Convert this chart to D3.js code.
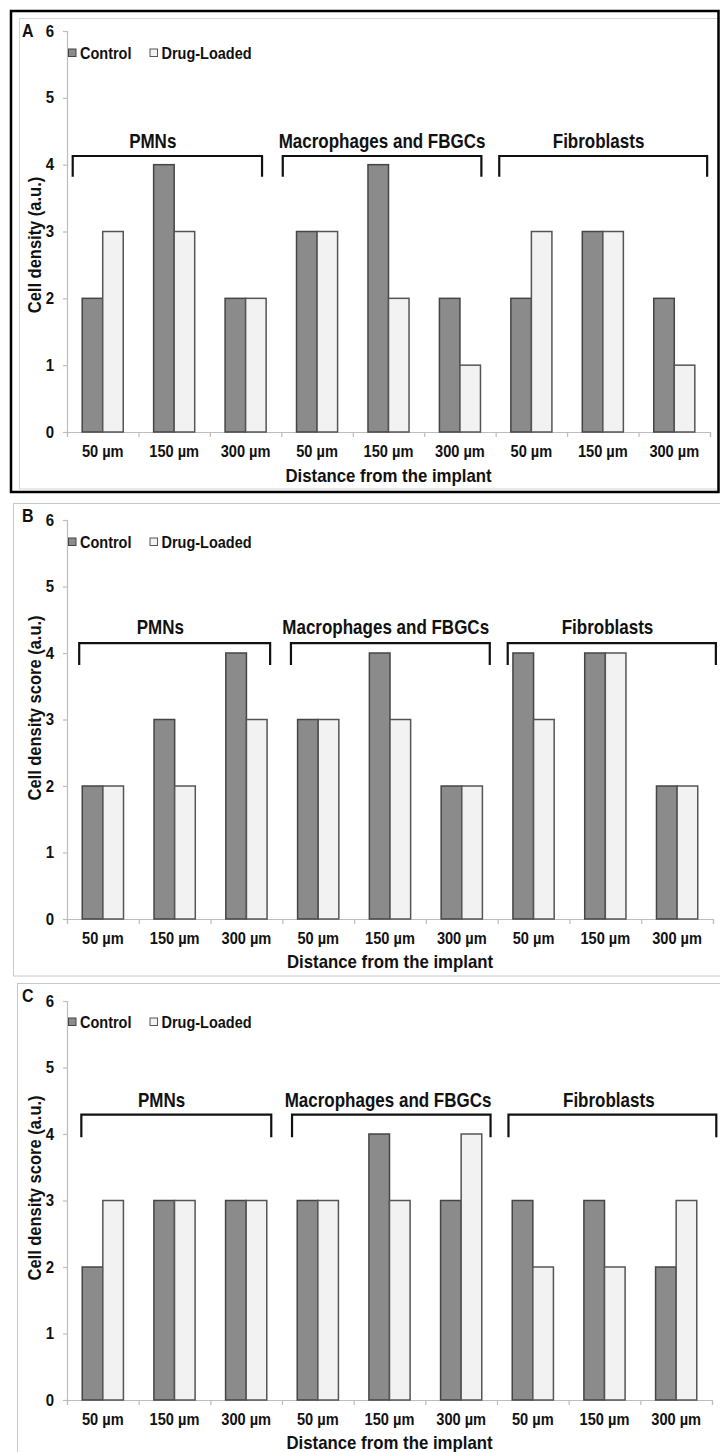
<!DOCTYPE html>
<html>
<head>
<meta charset="utf-8">
<script src="https://cdn.jsdelivr.net/npm/d3@7"></script>
<style>
  html, body { margin: 0; padding: 0; background: #fff; }
  svg { display: block; }
  text { font-family: "Liberation Sans", Arial, sans-serif; font-weight: bold; fill: #111; }
</style>
</head>
<body>
<svg id="chart" width="720" height="1452"></svg>
<script>
// ---------- data ----------
const categories = ["50 µm", "150 µm", "300 µm", "50 µm", "150 µm", "300 µm", "50 µm", "150 µm", "300 µm"];
const groups = ["PMNs", "Macrophages and FBGCs", "Fibroblasts"];
const series = ["Control", "Drug-Loaded"];
const yTicks = [0, 1, 2, 3, 4, 5, 6];
const xTitle = "Distance from the implant";

const panelLetters = ["A", "B", "C"];
const yTitles = ["Cell density (a.u.)", "Cell density score (a.u.)", "Cell density score (a.u.)"];

const controlA = [2, 4, 2, 3, 4, 2, 2, 3, 2];
const drugA    = [3, 3, 2, 3, 2, 1, 3, 3, 1];
const controlB = [2, 3, 4, 3, 4, 2, 4, 4, 2];
const drugB    = [2, 2, 3, 3, 3, 2, 3, 4, 2];
const controlC = [2, 3, 3, 3, 4, 3, 3, 3, 2];
const drugC    = [3, 3, 3, 3, 3, 4, 2, 2, 3];

// ---------- layout (positions / styles) ----------
const layouts = [
  { y0: 432, y6: 31, x0: 67, x1: 710, letterY: 37, legendY: 53, tickY: 457, titleY: 482, yTitleC: 245,
    spans: [[0.08, 2.73], [3.02, 5.80], [6.05, 8.96]], brTop: 4.13, brBot: 3.82,
    labelX: [1.2, 4.41, 7.44], labelV: 4.34, values: [controlA, drugA] },
  { y0: 919, y6: 520, x0: 67, x1: 713, letterY: 522, legendY: 542, tickY: 944, titleY: 968, yTitleC: 708,
    spans: [[0.17, 2.83], [3.12, 5.89], [6.14, 9.04]], brTop: 4.15, brBot: 3.82,
    labelX: [1.3, 4.44, 7.53], labelV: 4.38, values: [controlB, drugB] },
  { y0: 1400, y6: 1001, x0: 67, x1: 712, letterY: 1002, legendY: 1022, tickY: 1425, titleY: 1449, yTitleC: 1188,
    spans: [[0.2, 2.85], [3.14, 5.91], [6.16, 9.06]], brTop: 4.29, brBot: 3.95,
    labelX: [1.32, 4.48, 7.56], labelV: 4.5, values: [controlC, drugC] }
];
const fills = ["#8b8b8b", "#f2f2f2"];
const strokes = ["#454545", "#555555"];
const axisColor = "#bdbdbd";
const stretch = 1.14;

const svg = d3.select("#chart");

function stext(parent, x, y, str, size, anchor) {
  return parent.append("text")
    .attr("transform", `translate(${x},${y}) scale(1,${stretch})`)
    .attr("text-anchor", anchor || "start")
    .style("font-size", size + "px").text(str);
}

// ---------- frames ----------
svg.append("rect").attr("x", 19.5).attr("y", 18.5).attr("width", 720).attr("height", 470.5)
  .attr("fill", "none").attr("stroke", "#d6d6d6").attr("stroke-width", 1);
svg.append("rect").attr("x", 11).attr("y", 11).attr("width", 707.5).attr("height", 481)
  .attr("fill", "none").attr("stroke", "#000").attr("stroke-width", 2.5);
svg.append("rect").attr("x", 13.5).attr("y", 503.5).attr("width", 720).attr("height", 472.5)
  .attr("fill", "none").attr("stroke", "#c8c8c8").attr("stroke-width", 1);
svg.append("rect").attr("x", 17.5).attr("y", 983.5).attr("width", 720).attr("height", 500)
  .attr("fill", "none").attr("stroke", "#c8c8c8").attr("stroke-width", 1);

// ---------- panels ----------
layouts.forEach((L, pi) => {
  const g = svg.append("g");
  const y = d3.scaleLinear().domain([0, 6]).range([L.y0, L.y6]);
  const idx = d3.range(categories.length);
  const x = d3.scaleBand().domain(idx).range([L.x0, L.x1]).padding(0);
  const xi = d3.scaleLinear().domain([0, categories.length]).range([L.x0, L.x1]);
  const xs = d3.scaleBand().domain(series).range([0, x.bandwidth()]).paddingInner(0).paddingOuter(0.74);

  // y axis
  const yAxis = d3.axisLeft(y).tickValues(yTicks).tickSize(4).tickPadding(9).tickFormat(d3.format("d"));
  const ya = g.append("g").attr("transform", `translate(${L.x0},0)`).call(yAxis);
  ya.select(".domain").attr("stroke", axisColor).attr("stroke-width", 1.2);
  ya.selectAll(".tick line").attr("stroke", axisColor).attr("stroke-width", 1.2);
  ya.selectAll(".tick text").style("font-size", "15px").style("font-family", "Liberation Sans, Arial, sans-serif")
    .style("font-weight", "bold").attr("fill", "#111")
    .attr("transform", `scale(1,${stretch})`).attr("dy", "0.3em");

  // x axis (ticks at band boundaries)
  const boundaries = d3.range(categories.length + 1);
  const xAxisG = g.append("g").attr("transform", `translate(0,${L.y0})`);
  xAxisG.call(d3.axisBottom(xi).tickValues(boundaries).tickSize(5).tickFormat(""));
  xAxisG.select(".domain").attr("stroke", axisColor).attr("stroke-width", 1.2);
  xAxisG.selectAll(".tick line").attr("stroke", axisColor).attr("stroke-width", 1.2);

  categories.forEach((c, i) => {
    stext(g, x(i) + x.bandwidth() / 2, L.tickY, c, 14.6, "middle").attr("class", "xlab");
  });

  // bars
  series.forEach((s, si) => {
    g.selectAll("rect.bar" + si).data(L.values[si]).join("rect").attr("class", "bar" + si)
      .attr("x", (d, i) => x(i) + xs(s)).attr("width", xs.bandwidth())
      .attr("y", d => y(d)).attr("height", d => y(0) - y(d))
      .attr("fill", fills[si]).attr("stroke", strokes[si]).attr("stroke-width", 1.5);
  });

  // brackets
  groups.forEach((name, gi) => {
    const [a, b] = L.spans[gi];
    const xa = xi(a), xb = xi(b), yt = y(L.brTop), yb = y(L.brBot);
    g.append("path").attr("d", `M${xa},${yb}V${yt}H${xb}V${yb}`)
      .attr("fill", "none").attr("stroke", "#111").attr("stroke-width", 2.2);
    stext(g, xi(L.labelX[gi]), y(L.labelV) + 6.5, name, 17, "middle");
  });

  // legend
  let lx = L.x0 + 1;
  series.forEach((s, si) => {
    g.append("rect").attr("x", lx + 0.5).attr("y", L.legendY - 4).attr("width", 7.5).attr("height", 7.5)
      .attr("fill", fills[si]).attr("stroke", strokes[si]).attr("stroke-width", 1);
    const t = stext(g, lx + 12, L.legendY + 5.5, s, 14.5);
    lx += 12 + t.node().getComputedTextLength() + 18;
  });

  // letter
  stext(g, 22, L.letterY, panelLetters[pi], 16);

  // axis titles
  g.append("text").attr("transform", `translate(41,${L.yTitleC}) rotate(-90) scale(1.0,1.08)`)
    .attr("text-anchor", "middle").style("font-size", "16.5px").text(yTitles[pi]);
  stext(g, (L.x0 + L.x1) / 2, L.titleY, xTitle, 16.8, "middle");
});
</script>
</body>
</html>
